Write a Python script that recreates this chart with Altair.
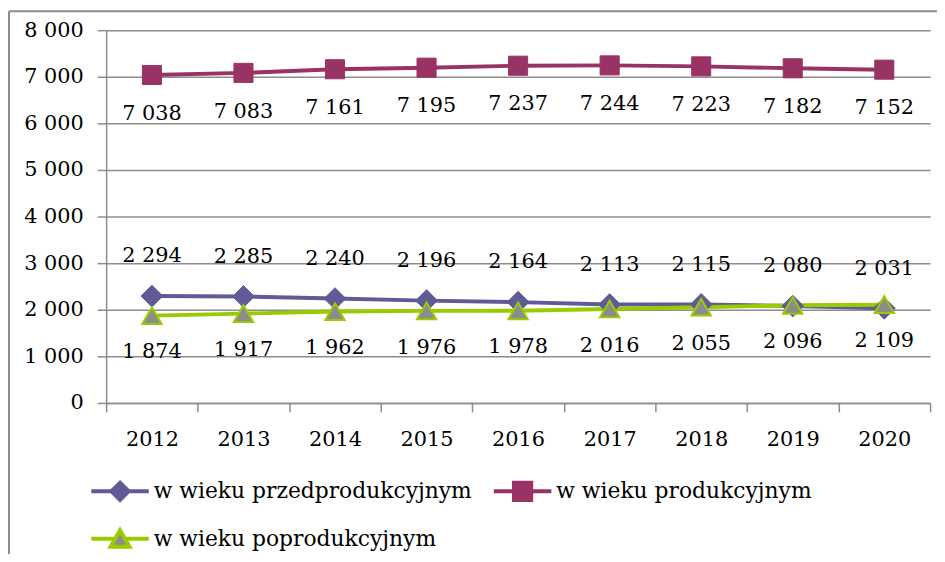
import altair as alt
import pandas as pd

years = ["2012", "2013", "2014", "2015", "2016", "2017", "2018", "2019", "2020"]
przed = [2294, 2285, 2240, 2196, 2164, 2113, 2115, 2080, 2031]
prod = [7038, 7083, 7161, 7195, 7237, 7244, 7223, 7182, 7152]
popr = [1874, 1917, 1962, 1976, 1978, 2016, 2055, 2096, 2109]
series_names = ["w wieku przedprodukcyjnym", "w wieku produkcyjnym", "w wieku poprodukcyjnym"]
series_values = [przed, prod, popr]
y_ticks = [0, 1000, 2000, 3000, 4000, 5000, 6000, 7000, 8000]

line_colors = ["#5f5b97", "#993366", "#99cc00"]
marker_fill = ["#5f5b97", "#993366", "#8c8c8c"]
marker_shapes = ["diamond", "square", "triangle-up"]
marker_sizes = [480, 370, 380]
marker_stroke = [1, 1, 2]
label_dy = [-40, 39, 37]
legend_paths = [
    "M-1,0L1,0M0,-0.3L0.3,0L0,0.3L-0.3,0Z",
    "M-1,0L1,0M-0.3,-0.3L0.3,-0.3L0.3,0.3L-0.3,0.3Z",
    "M-1,0L-0.17,0M0.17,0L1,0M-0.33,0.28L0.33,0.28L0,-0.3Z",
]

rows = []
for name, vals in zip(series_names, series_values):
    for yr, v in zip(years, vals):
        rows.append({"year": yr, "series": name, "value": v,
                     "label": f"{v:,}".replace(",", " ")})
df = pd.DataFrame(rows)

FONT = "DejaVu Serif"
GRAY = "#8c8c8c"

x_enc = alt.X("year:N", scale=alt.Scale(type="band", domain=years, paddingInner=0, paddingOuter=0),
              axis=alt.Axis(title=None, labelAngle=0, tickBand="extent", tickSize=9, labelPadding=17,
                            domainColor=GRAY, tickColor=GRAY, domainWidth=1.5, tickWidth=1.5,
                            labelFont=FONT, labelFontSize=21, labelColor="black", grid=False))
y_enc = alt.Y("value:Q", scale=alt.Scale(domain=[0, 8000], nice=False),
              axis=alt.Axis(title=None, values=y_ticks, tickSize=9, labelPadding=14,
                            labelExpr="replace(format(datum.value, ','), ',', ' ')",
                            domainColor=GRAY, tickColor=GRAY, domainWidth=1.5, tickWidth=1.5,
                            gridColor=GRAY, gridWidth=1.5,
                            labelFont=FONT, labelFontSize=21, labelColor="black", grid=True))

base = alt.Chart(df)
layers = []
for i, name in enumerate(series_names):
    sub = base.transform_filter(alt.datum.series == name)
    layers.append(sub.mark_line(color=line_colors[i], strokeWidth=4).encode(x=x_enc, y=y_enc))
for i, name in enumerate(series_names):
    sub = base.transform_filter(alt.datum.series == name)
    layers.append(sub.mark_point(shape=marker_shapes[i], filled=True, fill=marker_fill[i],
                                 stroke=line_colors[i], strokeWidth=marker_stroke[i],
                                 size=marker_sizes[i], opacity=1).encode(x=x_enc, y=y_enc))
for i, name in enumerate(series_names):
    sub = base.transform_filter(alt.datum.series == name)
    layers.append(sub.mark_text(dy=label_dy[i], font=FONT, fontSize=21, color="black")
                  .encode(x=x_enc, y=y_enc, text="label:N"))

legend = alt.Legend(title=None, orient="none", legendX=-17, legendY=434, direction="horizontal",
                    columns=2, columnPadding=14, rowPadding=-12, symbolSize=3364, symbolStrokeWidth=4,
                    labelFont=FONT, labelFontSize=22, labelColor="black", labelOffset=3,
                    labelLimit=600, symbolOpacity=1)
legend_layer = base.transform_filter("datum.value < 0").mark_point(filled=True, strokeWidth=4).encode(
    x=x_enc, y=y_enc,
    shape=alt.Shape("series:N", scale=alt.Scale(domain=series_names, range=legend_paths), legend=legend),
    fill=alt.Fill("series:N", scale=alt.Scale(domain=series_names, range=marker_fill), legend=legend),
    stroke=alt.Stroke("series:N", scale=alt.Scale(domain=series_names, range=line_colors), legend=legend),
)
layers.append(legend_layer)

frame = pd.DataFrame({"a": [0]})
layers.append(alt.Chart(frame).mark_rule(color=GRAY, strokeWidth=2).encode(
    x=alt.value(-98), y=alt.value(-19), y2=alt.value(545)))
layers.append(alt.Chart(frame).mark_rule(color=GRAY, strokeWidth=2).encode(
    x=alt.value(-98), x2=alt.value(845), y=alt.value(-19)))

chart = alt.layer(*layers).properties(
    width=831, height=376, autosize="none",
    padding={"left": 99, "top": 20, "right": 7, "bottom": 150},
).configure_view(stroke=None)

chart.save("out.html", embed_options={"renderer": "svg", "actions": False})
